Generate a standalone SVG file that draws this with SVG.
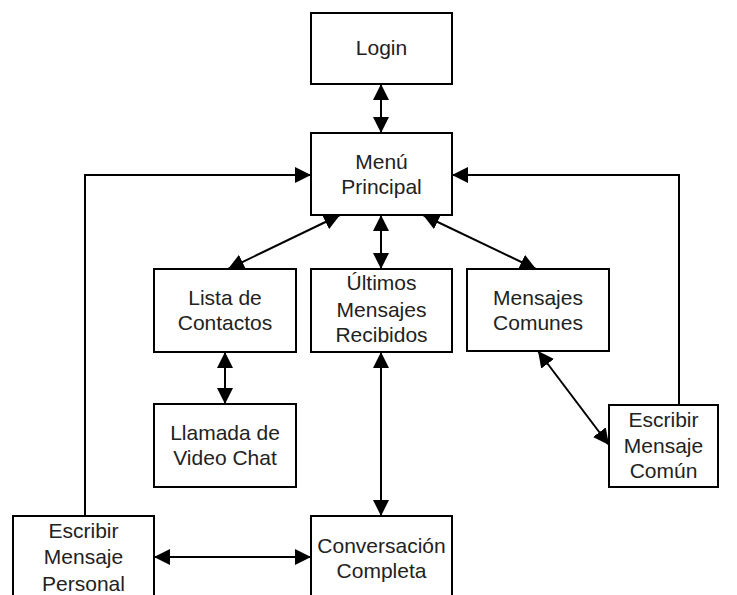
<svg xmlns="http://www.w3.org/2000/svg" width="737" height="595" viewBox="0 0 737 595">
  <defs>
    <marker id="ah" viewBox="0 0 16 16" refX="16" refY="8" markerWidth="16" markerHeight="16" markerUnits="userSpaceOnUse" orient="auto-start-reverse">
      <path d="M0,0 L16,8 L0,16 z" fill="#000"/>
    </marker>
    <style>
      rect.box { fill: #fff; stroke: #000; stroke-width: 2; }
      text { font-family: "Liberation Sans", Arial, sans-serif; font-size: 21px; fill: #222; text-anchor: middle; }
      .link { fill: none; stroke: #000; stroke-width: 2; }
      .both { marker-start: url(#ah); marker-end: url(#ah); }
      .one { marker-end: url(#ah); }
    </style>
  </defs>
  <rect width="737" height="595" fill="#fff"/>

  <g id="connectors">
    <line class="link both" x1="340" y1="215" x2="228" y2="269"/>
    <line class="link both" x1="381" y1="84" x2="381" y2="133"/>
    <line class="link both" x1="381" y1="215" x2="381" y2="269"/>
    <line class="link both" x1="423" y1="215" x2="536" y2="269"/>
    <line class="link both" x1="225" y1="352" x2="225" y2="404"/>
    <line class="link both" x1="381" y1="352" x2="381" y2="516"/>
    <line class="link both" x1="538" y1="351" x2="609" y2="445"/>
    <line class="link both" x1="154" y1="557" x2="311" y2="557"/>
    <polyline class="link one" points="85,516 85,175 311,175"/>
    <polyline class="link one" points="679,405 679,175 452,175"/>
  </g>

  <g id="login">
    <rect class="box" x="311" y="13" width="141" height="71"/>
    <text x="381.5" y="55">Login</text>
  </g>
  <g id="menu-principal">
    <rect class="box" x="311" y="133" width="141" height="82"/>
    <text x="381.5" y="169">Menú</text>
    <text x="381.5" y="194">Principal</text>
  </g>
  <g id="lista-contactos">
    <rect class="box" x="154" y="269" width="142" height="83"/>
    <text x="225" y="305">Lista de</text>
    <text x="225" y="330">Contactos</text>
  </g>
  <g id="ultimos-mensajes">
    <rect class="box" x="311" y="269" width="141" height="83"/>
    <text x="381.5" y="290">Últimos</text>
    <text x="381.5" y="317">Mensajes</text>
    <text x="381.5" y="342">Recibidos</text>
  </g>
  <g id="mensajes-comunes">
    <rect class="box" x="467" y="269" width="142" height="82"/>
    <text x="538" y="305">Mensajes</text>
    <text x="538" y="330">Comunes</text>
  </g>
  <g id="llamada-video">
    <rect class="box" x="154" y="404" width="142" height="83"/>
    <text x="225" y="440">Llamada de</text>
    <text x="225" y="465">Video Chat</text>
  </g>
  <g id="escribir-comun">
    <rect class="box" x="609" y="405" width="109" height="82"/>
    <text x="663.5" y="427">Escribir</text>
    <text x="663.5" y="453">Mensaje</text>
    <text x="663.5" y="478">Común</text>
  </g>
  <g id="escribir-personal">
    <rect class="box" x="13" y="516" width="141" height="100"/>
    <text x="83.5" y="538">Escribir</text>
    <text x="83.5" y="564">Mensaje</text>
    <text x="83.5" y="591">Personal</text>
  </g>
  <g id="conversacion-completa">
    <rect class="box" x="311" y="516" width="141" height="100"/>
    <text x="381.5" y="553">Conversación</text>
    <text x="381.5" y="578">Completa</text>
  </g>
</svg>
